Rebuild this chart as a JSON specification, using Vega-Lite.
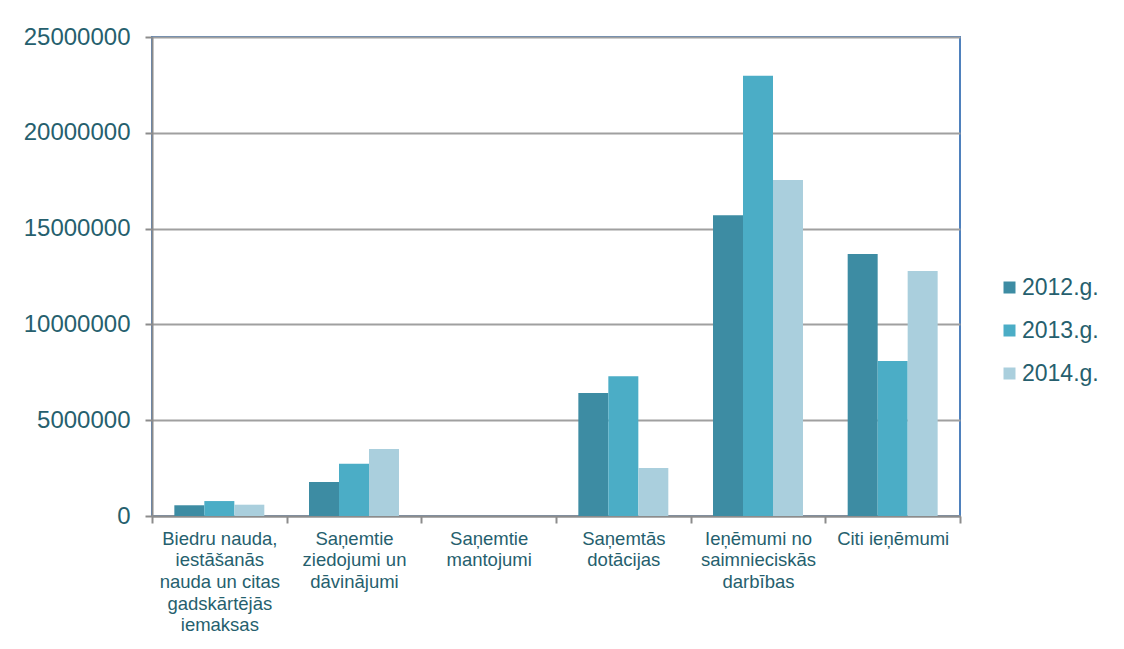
{
  "$schema": "https://vega.github.io/schema/vega-lite/v6.json",
  "width": 808,
  "height": 479,
  "autosize": {"type": "none"},
  "padding": {"left": 152, "top": 37, "right": 164, "bottom": 133},
  "background": "white",
  "data": {
    "values": [
      {"cat": "Biedru nauda,|iestāšanās|nauda un citas|gadskārtējās|iemaksas", "year": "2012.g.", "value": 560000},
      {"cat": "Biedru nauda,|iestāšanās|nauda un citas|gadskārtējās|iemaksas", "year": "2013.g.", "value": 780000},
      {"cat": "Biedru nauda,|iestāšanās|nauda un citas|gadskārtējās|iemaksas", "year": "2014.g.", "value": 590000},
      {"cat": "Saņemtie|ziedojumi un|dāvinājumi", "year": "2012.g.", "value": 1770000},
      {"cat": "Saņemtie|ziedojumi un|dāvinājumi", "year": "2013.g.", "value": 2730000},
      {"cat": "Saņemtie|ziedojumi un|dāvinājumi", "year": "2014.g.", "value": 3500000},
      {"cat": "Saņemtie|mantojumi", "year": "2012.g.", "value": 0},
      {"cat": "Saņemtie|mantojumi", "year": "2013.g.", "value": 0},
      {"cat": "Saņemtie|mantojumi", "year": "2014.g.", "value": 0},
      {"cat": "Saņemtās|dotācijas", "year": "2012.g.", "value": 6420000},
      {"cat": "Saņemtās|dotācijas", "year": "2013.g.", "value": 7300000},
      {"cat": "Saņemtās|dotācijas", "year": "2014.g.", "value": 2500000},
      {"cat": "Ieņēmumi no|saimnieciskās|darbības", "year": "2012.g.", "value": 15700000},
      {"cat": "Ieņēmumi no|saimnieciskās|darbības", "year": "2013.g.", "value": 22980000},
      {"cat": "Ieņēmumi no|saimnieciskās|darbības", "year": "2014.g.", "value": 17540000},
      {"cat": "Citi ieņēmumi", "year": "2012.g.", "value": 13670000},
      {"cat": "Citi ieņēmumi", "year": "2013.g.", "value": 8090000},
      {"cat": "Citi ieņēmumi", "year": "2014.g.", "value": 12790000}
    ]
  },
  "mark": {"type": "bar"},
  "encoding": {
    "x": {
      "field": "cat",
      "type": "nominal",
      "sort": null,
      "title": null,
      "scale": {"paddingInner": 0, "paddingOuter": 0},
      "axis": {
        "labelAngle": 0,
        "tickBand": "extent",
        "labelExpr": "split(datum.label, '|')",
        "labelFontSize": 18.5,
        "labelLineHeight": 21.7,
        "labelPadding": 6,
        "labelColor": "#265f6e",
        "labelFont": "Liberation Sans",
        "labelLimit": 200,
        "domainColor": "#8c8c8c",
        "domainWidth": 2,
        "tickColor": "#8c8c8c",
        "tickWidth": 2,
        "tickSize": 7,
        "grid": false
      }
    },
    "xOffset": {
      "field": "year",
      "type": "nominal",
      "scale": {"paddingOuter": 0.745, "paddingInner": 0}
    },
    "y": {
      "field": "value",
      "type": "quantitative",
      "title": null,
      "scale": {"domain": [0, 25000000], "nice": false},
      "axis": {
        "values": [0, 5000000, 10000000, 15000000, 20000000, 25000000],
        "format": "d",
        "labelFontSize": 24,
        "labelPadding": 15,
        "labelColor": "#265f6e",
        "labelFont": "Liberation Sans",
        "domainColor": "#8c8c8c",
        "domainWidth": 2,
        "tickColor": "#8c8c8c",
        "tickWidth": 2,
        "tickSize": 7,
        "grid": true,
        "gridColor": "#a0a0a0",
        "gridWidth": 2
      }
    },
    "color": {
      "field": "year",
      "type": "nominal",
      "title": null,
      "scale": {
        "domain": ["2012.g.", "2013.g.", "2014.g."],
        "range": ["#3d8ca3", "#4badc6", "#aacfdd"]
      },
      "legend": {
        "orient": "none",
        "legendX": 846,
        "legendY": 239,
        "symbolType": "square",
        "symbolSize": 144,
        "symbolStrokeWidth": 0,
        "labelFontSize": 23,
        "labelFont": "Liberation Sans",
        "labelColor": "#265f6e",
        "rowPadding": 19,
        "labelOffset": 1
      }
    }
  },
  "config": {
    "view": {"stroke": "#4f81bd", "strokeWidth": 2},
    "font": "Liberation Sans"
  }
}
